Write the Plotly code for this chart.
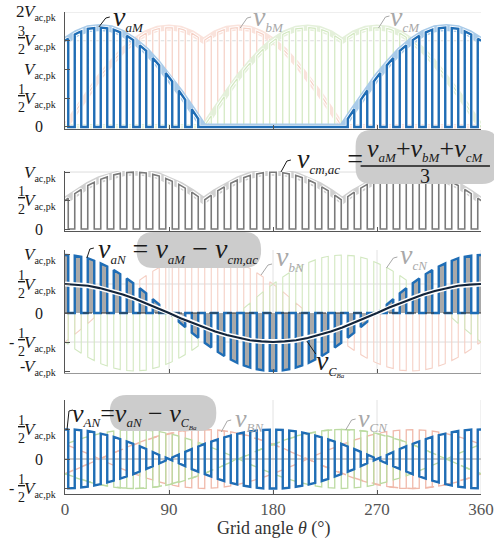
import numpy as np
import plotly.graph_objects as go

# ---------------- data ----------------
theta_deg = list(range(0, 361, 10))
# envelope of phase-a voltage to the negative rail M (units of V_ac,pk)
vaM_env = [1.50, 1.63, 1.71, 1.73, 1.71, 1.63, 1.50, 1.33, 1.11, 0.87, 0.59, 0.30,
           0.00, 0.00, 0.00, 0.00, 0.00, 0.00, 0.00, 0.00, 0.00, 0.00, 0.00, 0.00,
           0.00, 0.30, 0.59, 0.87, 1.11, 1.33, 1.50, 1.63, 1.71, 1.73, 1.71, 1.63, 1.50]
# capacitor voltage of phase a
vCBa_env = [0.50, 0.49, 0.47, 0.43, 0.38, 0.32, 0.25, 0.17, 0.09, 0.00, -0.09, -0.17,
            -0.25, -0.32, -0.38, -0.43, -0.47, -0.49, -0.50, -0.49, -0.47, -0.43, -0.38, -0.32,
            -0.25, -0.17, -0.09, 0.00, 0.09, 0.17, 0.25, 0.32, 0.38, 0.43, 0.47, 0.49, 0.50]
x_tick_vals = [0, 90, 180, 270, 360]
x_tick_text = ["0", "90", "180", "270", "360"]
pulse_period_deg = 11.25
duty_ratio = 0.5

th = np.array(theta_deg, float)


def lag(vals, deg):
    base = np.asarray(vals[:-1], float)
    r = np.roll(base, int(round(deg / 10)))
    return np.append(r, r[0])


vaM = np.array(vaM_env, float)
vbM = lag(vaM_env, 120)
vcM = lag(vaM_env, 240)
vcm = (vaM + vbM + vcM) / 3
vaN, vbN, vcN = vaM - vcm, vbM - vcm, vcM - vcm
vCBa = np.array(vCBa_env, float)
vCBb = lag(vCBa_env, 120)
vCBc = lag(vCBa_env, 240)
zero = np.zeros_like(th)


def pwm(on, off):
    half = duty_ratio * pulse_period_deg / 2
    n = int(round(360 / pulse_period_deg))
    edges = []
    for k in range(n + 1):
        c = k * pulse_period_deg
        edges += [c - half, c + half]
    edges = [e for e in edges if 0 < e < 360]
    bounds = [0.0] + edges + [360.0]
    xs, ys = [], []
    state = True
    for a, b in zip(bounds[:-1], bounds[1:]):
        lvl = on if state else off
        t = np.linspace(a, b, max(2, int(np.ceil((b - a) / 2)) + 1))
        xs.extend(t.tolist())
        ys.extend(np.interp(t, th, lvl).tolist())
        state = not state
    return xs, ys


# ---------------- styling ----------------
BLUE = "#1f6db5"
LBLUE = "#a9cbe9"
PINK = "#f0b9aa"
PINK1 = "#f5d0c5"
LPINK = "#fae3dc"
GREEN = "#bcdba2"
GREEN1 = "#d2e8c0"
LGREEN = "#e4f0da"
GRAY = "#7a7a7a"
LGRAY = "#d0d0d0"
SERIF = "Liberation Serif"

fig = go.Figure()


def ax(p):
    return ("x" if p == 1 else f"x{p}"), ("y" if p == 1 else f"y{p}")


def add(p, x, y, color, width, dash=None, fill=None, fillcolor=None):
    xa, ya = ax(p)
    fig.add_trace(go.Scatter(x=x, y=y, xaxis=xa, yaxis=ya, mode="lines",
                             line=dict(color=color, width=width, dash=dash),
                             fill=fill, fillcolor=fillcolor,
                             hoverinfo="skip", showlegend=False))


# panel 1
for env, band, col in [(vbM, LPINK, PINK1), (vcM, LGREEN, GREEN1)]:
    add(1, th, env, band, 6)
    px_, py_ = pwm(env, zero)
    add(1, px_, py_, "white", 3)
    add(1, px_, py_, col, 1.2)
add(1, th, vaM, LBLUE, 7)
px_, py_ = pwm(vaM, zero)
add(1, px_, py_, "white", 4)
add(1, px_, py_, BLUE, 2.4)

# panel 2
add(2, th, vcm, LGRAY, 7)
px_, py_ = pwm(vcm, zero)
add(2, px_, py_, "white", 4)
add(2, px_, py_, GRAY, 1.6)

# panel 3
for env, col in [(vbN, PINK1), (vcN, GREEN1)]:
    px_, py_ = pwm(env, zero)
    add(3, px_, py_, col, 1.1)
px_, py_ = pwm(vaN, zero)
add(3, px_, py_, BLUE, 2.4, fill="tozeroy", fillcolor="#a9a9a9")
add(3, [0, 360], [0, 0], "#333333", 1.2, dash="dash")
add(3, th, vCBa, "white", 5)
add(3, th, vCBa, "#13243a", 2.2)

# panel 4
add(4, [0, 360], [0, 0], "#999999", 1.2)
for envN, cb, col in [(vbN, vCBb, PINK), (vcN, vCBc, GREEN)]:
    add(4, th, cb, col, 1.5, dash="dash")
    px_, py_ = pwm(envN - cb, -cb)
    add(4, px_, py_, col, 1.3)
px_, py_ = pwm(vaN - vCBa, -vCBa)
add(4, px_, py_, BLUE, 2.4)

# ---------------- layout ----------------
W, H = 494, 544
PL, PR, PT, PB = 65, 11, 0, 48
PW, PH = W - PL - PR, H - PT - PB


def X(px):
    return (px - PL) / PW


def Y(py):
    return (PH + PT - py) / PH


panels = {
    1: dict(px=(12, 129), rng=[-0.035, 2.0], ticks=[0, 0.5, 1, 1.5, 2]),
    2: dict(px=(171, 231), rng=[-0.035, 1.018], ticks=[0, 0.5, 1]),
    3: dict(px=(250, 373), rng=[-1.034, 1.086], ticks=[-1, -0.5, 0, 0.5, 1]),
    4: dict(px=(400, 494), rng=[-0.593, 1.0], ticks=[-0.5, 0, 0.5, 1]),
}
lay = {}
for p, d in panels.items():
    xa, ya = ax(p)
    xk = "xaxis" if p == 1 else f"xaxis{p}"
    yk = "yaxis" if p == 1 else f"yaxis{p}"
    lay[xk] = dict(domain=[0, 1], range=[0, 360], anchor=ya, showline=True,
                   linecolor="#555555" if p != 3 else "#999999", linewidth=1,
                   ticks="inside", ticklen=4, tickcolor="#555555",
                   tickvals=x_tick_vals, ticktext=x_tick_text,
                   showticklabels=(p == 4), showgrid=False, zeroline=False,
                   ticklabeloverflow="allow",
                   tickfont=dict(family=SERIF, size=17, color="#555555"))
    lay[yk] = dict(domain=[Y(d["px"][1]), Y(d["px"][0])], range=d["rng"], anchor=xa,
                   showline=True, linecolor="#555555", linewidth=1, ticks="inside",
                   ticklen=5, tickcolor="#555555", tickvals=d["ticks"],
                   showticklabels=False, showgrid=False, zeroline=False)

fig.update_layout(width=W, height=H, margin=dict(l=PL, r=PR, t=PT, b=PB),
                  paper_bgcolor="white", plot_bgcolor="white", **lay)

shapes = []
# horizontal grid lines
for p, vals in [(1, [1.5, 2]), (2, [1]), (3, [0.5, -0.5])]:
    xa, ya = ax(p)
    for v in vals:
        shapes.append(dict(type="line", xref=xa, yref=ya, x0=0, x1=360, y0=v, y1=v,
                           line=dict(color="#dddddd", width=1), layer="below"))
# vertical grid lines
for p in [3, 4]:
    xa, ya = ax(p)
    for v in [90, 180, 270, 360]:
        shapes.append(dict(type="line", xref=xa, yref=ya + " domain", x0=v, x1=v, y0=0, y1=1,
                           line=dict(color="#e2e2e2", width=1), layer="below"))


def rbox(x0, y0, x1, y1, r):
    pts = (f"M {X(x0 + r)},{Y(y0)} L {X(x1 - r)},{Y(y0)} Q {X(x1)},{Y(y0)} {X(x1)},{Y(y0 + r)} "
           f"L {X(x1)},{Y(y1 - r)} Q {X(x1)},{Y(y1)} {X(x1 - r)},{Y(y1)} "
           f"L {X(x0 + r)},{Y(y1)} Q {X(x0)},{Y(y1)} {X(x0)},{Y(y1 - r)} "
           f"L {X(x0)},{Y(y0 + r)} Q {X(x0)},{Y(y0)} {X(x0 + r)},{Y(y0)} Z")
    return dict(type="path", xref="paper", yref="paper", path=pts,
                fillcolor="#cccccc", line=dict(width=0), layer="above")


shapes.append(rbox(357, 130, 500, 184, 16))
shapes.append(rbox(137, 232, 262, 268, 17))
shapes.append(rbox(110, 395, 217, 431, 17))


def leader(x0, y0, x1, y1, color):
    shapes.append(dict(type="path", xref="paper", yref="paper",
                       path=f"M {X(x0)},{Y(y0)} L {X(x1 - 4)},{Y(y1 + 1)} L {X(x1)},{Y(y1)}",
                       line=dict(color=color, width=1)))


DARK = "#1a1a1a"
FADE = "#a8a8a8"
leader(99, 27, 110, 17, DARK)
leader(241, 28, 252, 17, FADE)
leader(380, 28, 391, 16, FADE)
leader(282, 172, 292, 160, DARK)
leader(87, 258, 94, 248, DARK)
leader(262, 275, 273, 264, FADE)
leader(388, 268, 399, 257, FADE)
leader(67, 430, 73, 410, DARK)
leader(222, 432, 232, 420, FADE)
leader(347, 430, 357, 419, FADE)
shapes.append(dict(type="line", xref="paper", yref="paper", x0=X(308), y0=Y(341), x1=X(317), y1=Y(354),
                   line=dict(color=DARK, width=1)))
# fraction bar in equation box
shapes.append(dict(type="line", xref="paper", yref="paper", x0=X(362), x1=X(492), y0=Y(166), y1=Y(166),
                   line=dict(color=DARK, width=1.3)))
fig.update_layout(shapes=shapes)

ann = []


def sub(s, size):
    return f"<sub><span style='font-size:{size}px'>{s}</span></sub>"


def txt(x, y, text, size, color=DARK, xanchor="left", yanchor="middle"):
    ann.append(dict(x=X(x), y=Y(y), xref="paper", yref="paper", text=text, showarrow=False,
                    xanchor=xanchor, yanchor=yanchor,
                    font=dict(family=SERIF, size=size, color=color)))


def v(s, size=13):
    return "<i>v</i>" + sub("<i>" + s + "</i>", size)


# curve labels
txt(111, 18, v("aM"), 28)
txt(252, 18, v("bM"), 28, FADE)
txt(390, 18, v("cM"), 28, FADE)
txt(296, 160, v("cm,ac") + " =", 28)
txt(427, 149, v("aM") + "+" + v("bM") + "+" + v("cM"), 26, xanchor="center")
txt(427, 176, "3", 20, xanchor="center")
txt(96, 250, v("aN") + " = " + v("aM") + " − " + v("cm,ac"), 28)
txt(275, 258, v("bN"), 28, FADE)
txt(400, 256, v("cN"), 28, FADE)
txt(315, 362, "<i>v</i>" + sub("<i>C</i>" + sub("<i>Ba</i>", 7), 12), 28)
txt(70, 415, v("AN") + "=" + v("aN") + " − " + "<i>v</i>" + sub("<i>C</i>" + sub("<i>Ba</i>", 7), 12), 26)
txt(234, 419, v("BN"), 26, FADE)
txt(357, 419, v("CN"), 26, FADE)

# y tick labels
VL = "<i>V</i>" + sub("ac,pk", 10)


def ylab(p, val, kind, sign=""):
    xa, ya = ax(p)

    def a(xpx, text, size, xanchor="right", yshift=0):
        ann.append(dict(x=X(xpx), y=val, xref="paper", yref=ya, text=text, showarrow=False,
                        xanchor=xanchor, yanchor="middle", yshift=yshift,
                        font=dict(family=SERIF, size=size, color=DARK)))
    if kind == "0":
        a(45, "0", 16)
        return
    a(58, VL, 17, yshift=-1)
    if kind == "frac":
        a(27, "<u>1</u><br>2", 14, yshift=0)
        if sign:
            a(16, sign, 16)
    elif kind == "frac3":
        a(27, "<u>3</u><br>2", 14)
    elif kind == "two":
        a(27, "2", 17)
    elif kind == "V" and sign:
        a(27, sign, 16)


for p, val, kind, sign in [(1, 0, "0", ""), (1, 0.5, "frac", ""), (1, 1, "V", ""), (1, 1.5, "frac3", ""),
                           (1, 2, "two", ""), (2, 0, "0", ""), (2, 0.5, "frac", ""), (2, 1, "V", ""),
                           (3, 1, "V", ""), (3, 0.5, "frac", ""), (3, 0, "0", ""), (3, -0.5, "frac", "-"),
                           (3, -0.92, "V", "-"), (4, 0.5, "frac", ""), (4, 0, "0", ""), (4, -0.5, "frac", "-")]:
    ylab(p, val, kind, sign)

txt(275, 528, "Grid angle <i>θ</i> (°)", 18, "#333333", xanchor="center")
fig.update_layout(annotations=ann)

fig.write_html("out.html")
